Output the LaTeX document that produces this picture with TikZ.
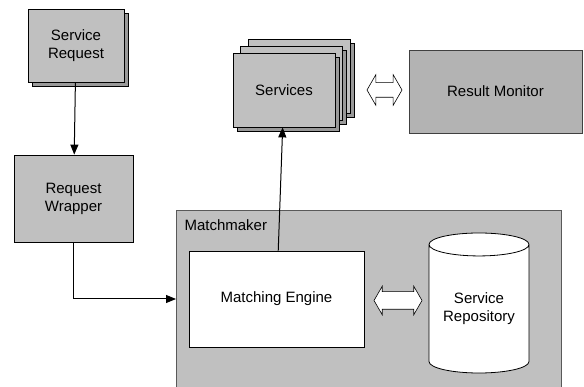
\documentclass[tikz,border=0pt]{standalone}
\usepackage{fontspec}
\setmainfont{Liberation Sans}
\usetikzlibrary{shapes,shadows,arrows.meta}
\definecolor{boxgray}{HTML}{C0C0C0}
\definecolor{darkgray}{HTML}{B3B3B3}
\definecolor{slabgray}{HTML}{999999}

\begin{document}
\begin{tikzpicture}[x=1pt,y=-1pt,>={Triangle[length=10pt,width=8pt]}]
        \tikzstyle{box}=[rectangle,draw,line width=0.8pt,fill=boxgray,align=center,inner sep=0pt,font=\fontsize{15}{18}\selectfont]
        \tikzstyle{slab}=[box,general shadow={fill=slabgray,draw,line width=0.8pt,shadow xshift=4pt,shadow yshift=-4pt}]
        \tikzstyle{twoway}=[double arrow,draw,fill=white,line width=0.6pt,inner xsep=0pt,double arrow tip angle=120]
        \useasboundingbox (0,0) rectangle (584,387);
        \node[slab,minimum width=96pt,minimum height=73pt] (sreq) at (76,45.5) {Service\\Request};
        \node[box,minimum width=119pt,minimum height=87pt] (wrap) at (73.5,198.5) {Request\\Wrapper};
        \node[slab,minimum width=102pt,minimum height=74pt] (svc3) at (299,76) {};
        \node[slab,minimum width=102pt,minimum height=74pt] (svc2) at (291.5,83) {};
        \node[slab,minimum width=102pt,minimum height=74pt] (svc) at (284,90) {Services};
        \node[twoway,inner ysep=7pt,minimum height=35pt,double arrow head extend=8pt] (link1) at (384.5,90) {};
        \node[box,fill=darkgray,draw=black!75,minimum width=173pt,minimum height=83pt] (mon) at (495.5,91.5) {Result Monitor};
        \node[box,draw=black!65,minimum width=385pt,minimum height=190pt,anchor=north west] (mm) at (176,210) {};
        \node[anchor=base west,font=\fontsize{15}{18}\selectfont] (mmlabel) at (181,230.5) {Matchmaker};
        \node[box,fill=white,minimum width=175pt,minimum height=96pt] (eng) at (276.5,299) {Matching Engine};
        \node[twoway,inner ysep=8.5pt,minimum height=48pt,double arrow head extend=5.5pt] (link2) at (398,300.5) {};
        \node[box,cylinder,shape border rotate=90,fill=white,aspect=0.32,minimum width=100pt,minimum height=140pt,anchor=shape center] (repo) at (479,303) {Service\\Repository};
        \draw[->,line width=1pt] (sreq) -- (wrap);
        \draw[->,line width=1pt] (wrap.south) |- (eng.west -| mm.west);
        \draw[->,line width=1pt] (eng) -- (svc);
\end{tikzpicture}
\end{document}
